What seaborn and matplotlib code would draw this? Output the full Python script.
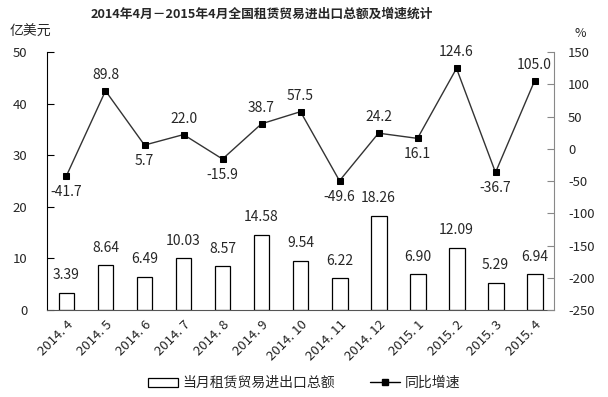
import numpy as np
import pandas as pd
import matplotlib
matplotlib.use('Agg')
import matplotlib.pyplot as plt
import seaborn as sns
from matplotlib.patches import Patch
from matplotlib.lines import Line2D

months = ['2014.4', '2014.5', '2014.6', '2014.7', '2014.8', '2014.9', '2014.10',
          '2014.11', '2014.12', '2015.1', '2015.2', '2015.3', '2015.4']
amount = [3.39, 8.64, 6.49, 10.03, 8.57, 14.58, 9.54, 6.22, 18.26, 6.90, 12.09, 5.29, 6.94]
growth = [-41.7, 89.8, 5.7, 22.0, -15.9, 38.7, 57.5, -49.6, 24.2, 16.1, 124.6, -36.7, 105.0]
# where each growth label sits: above or below its point
growth_pos = ['below', 'above', 'below', 'above', 'below', 'above', 'above',
              'below', 'above', 'below', 'above', 'below', 'above']

sns.set_style('white')
plt.rcParams['font.family'] = ['Noto Sans CJK SC', 'DejaVu Sans']
plt.rcParams['axes.unicode_minus'] = False

df = pd.DataFrame({'pos': np.arange(len(months)), 'month': months,
                   'amount': amount, 'growth': growth})

fig = plt.figure(figsize=(6.08, 3.97), dpi=100)
ax = fig.add_axes([0.0773, 0.219, 0.8339, 0.650])

sns.barplot(data=df, x='pos', y='amount', ax=ax, width=0.41,
            color='white', edgecolor='black', linewidth=0.9, native_scale=True)
ax.set_xlim(-0.5, len(months) - 0.5)
ax.set_ylim(0, 50)
ax.set_yticks(range(0, 51, 10))
ax.set_xticks(np.arange(len(months)))
ax.set_xticklabels([m.replace('.', '. ') for m in months], rotation=45,
                   ha='right', rotation_mode='anchor', fontsize=9.5, color='#222222')
ax.set_xticks(np.arange(-0.5, len(months), 1), minor=True)
ax.tick_params(axis='x', which='major', length=0, pad=6)
ax.tick_params(axis='x', which='minor', length=5, direction='out', color='#444444', width=0.8)
ax.tick_params(axis='y', direction='in', length=5, width=0.8, labelsize=9.5,
               pad=14, color='black')
ax.set_xlabel('')
ax.set_ylabel('')
for s in ['top', 'right']:
    ax.spines[s].set_visible(False)
ax.spines['left'].set_color('black')
ax.spines['bottom'].set_color('#555555')
ax.spines['left'].set_linewidth(0.8)

for i, v in enumerate(amount):
    ax.text(i, v + 2.0, f'{v:.2f}', ha='center', va='bottom', fontsize=10)

ax2 = ax.twinx()
sns.lineplot(data=df, x='pos', y='growth', ax=ax2, color='#333333', linewidth=1,
             marker='s', markersize=4.5, markerfacecolor='black',
             markeredgecolor='black')
ax2.set_ylim(-250, 150)
ax2.set_yticks(range(-250, 151, 50))
ax2.set_xlim(-0.5, len(months) - 0.5)
ax2.set_ylabel('')
ax2.tick_params(axis='y', direction='in', length=5, width=0.8, labelsize=9.5,
                pad=10, color='#888888')
for s in ['top', 'left', 'bottom']:
    ax2.spines[s].set_visible(False)
ax2.spines['right'].set_color('#888888')

for i, v in enumerate(growth):
    if growth_pos[i] == 'above':
        ax2.text(i, v + 14, f'{v:.1f}', ha='center', va='bottom', fontsize=10)
    else:
        ax2.text(i, v - 14, f'{v:.1f}', ha='center', va='top', fontsize=10)

fig.text(0.431, 0.965, '2014年4月－2015年4月全国租赁贸易进出口总额及增速统计',
         ha='center', va='center', fontsize=9.2, fontweight='bold')
fig.text(0.015, 0.92, '亿美元', ha='left', va='center', fontsize=10)
fig.text(0.955, 0.915, '%', ha='center', va='center', fontsize=9)

handles = [Patch(facecolor='white', edgecolor='black', linewidth=0.9),
           Line2D([0], [0], color='black', marker='s', markersize=4.5, linewidth=1)]
fig.legend(handles, ['当月租赁贸易进出口总额', '同比增速'], loc='center',
           bbox_to_anchor=(0.5, 0.035), ncol=2, frameon=False, fontsize=10,
           handlelength=2.2, handleheight=0.6, columnspacing=2.5, handletextpad=0.3)

fig.savefig('out.png', dpi=100)
